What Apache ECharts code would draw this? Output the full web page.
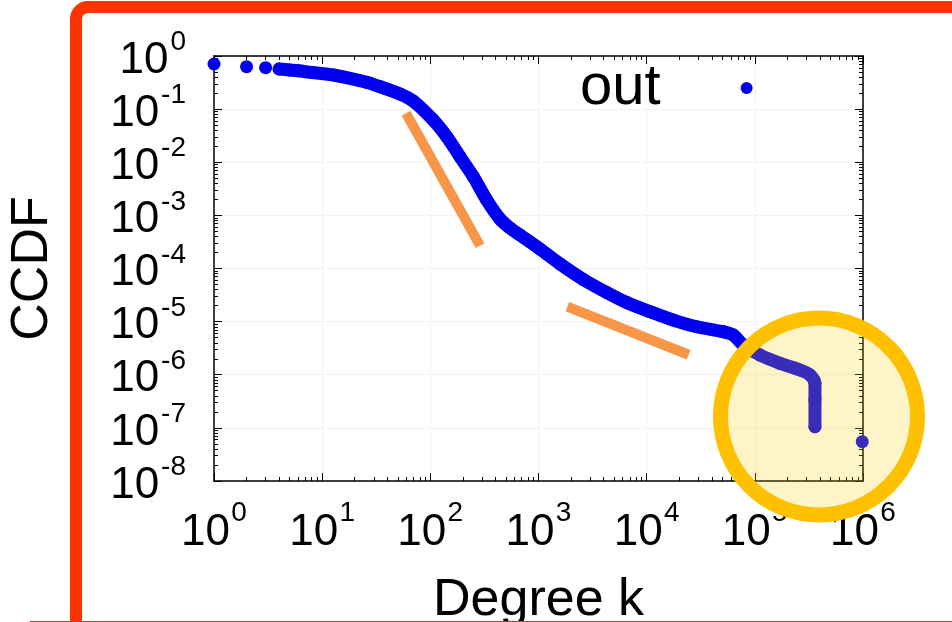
<!DOCTYPE html>
<html>
<head>
<meta charset="utf-8">
<script src="https://cdn.jsdelivr.net/npm/echarts@6/dist/echarts.min.js"></script>
<style>
  html, body { margin: 0; padding: 0; background: #ffffff; }
  #chart { width: 952px; height: 622px; }
</style>
</head>
<body>
<div id="chart"></div>
<script>
// ---- data ----
const degreeK = [1, 2, 3, 4, 5, 6, 8, 12.7, 25.8, 34.3, 52.4, 69.6, 105.8, 141.7, 188, 249.6, 332, 440.6,
  545, 674.6, 1032, 1580, 2594, 4270, 6535, 10740, 17630, 28980, 51100, 63200, 78200, 111600, 171000,
  261400, 323600, 359700, 359700, 359700, 984000];
const ccdfOut = [0.707, 0.629, 0.602, 0.569, 0.545, 0.526, 0.489, 0.439, 0.320, 0.264, 0.193, 0.142,
  0.063, 0.0303, 0.0127, 0.00535, 0.00195, 8.55e-4, 5.78e-4, 4.27e-4, 2.33e-4, 1.22e-4, 6.21e-5,
  3.53e-5, 2.29e-5, 1.54e-5, 1.07e-5, 8.02e-6, 6.46e-6, 5.60e-6, 3.63e-6, 2.35e-6, 1.64e-6,
  1.23e-6, 9.9e-7, 6.9e-7, 3.35e-7, 1.05e-7, 5.5e-8];
const denseStart = 3;   // index where the dots merge into a continuous band
const denseEnd = 37;    // last index of the band (before the isolated point)

// guide slopes (annotation lines), [k, ccdf] end points
const slopeGuide1 = [[59.6, 0.0834], [287.8, 2.69e-4]];
const slopeGuide2 = [[1846, 1.91e-5], [24450, 2.38e-6]];

// tick labels: base and exponents of 10
const tickBase = '10';
const xTickExps = ['0', '1', '2', '3', '4', '5', '6'];
const yTickExps = ['0', '-1', '-2', '-3', '-4', '-5', '-6', '-7', '-8'];
const minorMultipliers = [2, 3, 4, 5, 6, 7, 8, 9];
const xDecades = [0, 1, 2, 3, 4, 5];
const yDecades = [-8, -7, -6, -5, -4, -3, -2, -1];

const xMinor = [];
xDecades.forEach(d => minorMultipliers.forEach(m => xMinor.push(m * Math.pow(10, d))));
const yMinor = [];
yDecades.forEach(d => minorMultipliers.forEach(m => yMinor.push(m * Math.pow(10, d))));

const FONT = 'Liberation Sans, Arial, Helvetica, sans-serif';
const BLUE = '#0000ee';

const allPts = degreeK.map((k, i) => [k, ccdfOut[i]]);
const densePts = allPts.slice(denseStart, denseEnd + 1);

function expOf(v, list) {
  const e = String(Math.round(Math.log10(v)));
  const i = list.indexOf(e);
  return i >= 0 ? list[i] : e;
}

function logX(extra) {
  return Object.assign({
    type: 'log', logBase: 10, min: 1, max: 1e6, splitNumber: 6, gridIndex: 0
  }, extra);
}
function logY(extra) {
  return Object.assign({
    type: 'log', logBase: 10, min: 1e-8, max: 1, splitNumber: 8, gridIndex: 0
  }, extra);
}
const blackLine = { show: true, lineStyle: { color: '#000', width: 1.5 } };
const noLabel = { show: false };
const noSplit = { show: false };
const gridLine = { show: true, lineStyle: { color: '#f2f2f2', width: 1 } };
const majorTick = { show: true, inside: true, length: 8, lineStyle: { color: '#000', width: 1 } };

const chart = echarts.init(document.getElementById('chart'), null, { renderer: 'canvas' });
chart.setOption({
  animation: false,
  backgroundColor: '#ffffff',
  grid: { left: 214, right: 89, top: 56, bottom: 141, containLabel: false, outerBoundsMode: 'none' },
  legend: {
    data: [{ name: 'out', icon: 'circle' }],
    selectedMode: false,
    align: 'right',
    left: 575,
    top: 54,
    itemWidth: 12,
    itemHeight: 12,
    textStyle: { fontSize: 58, lineHeight: 58, fontFamily: FONT, color: '#000', padding: [0, 75, 0, 0] }
  },
  xAxis: [
    logX({
      position: 'bottom',
      axisLine: blackLine,
      axisTick: majorTick,
      axisLabel: { show: true, margin: 32, showMinLabel: true, showMaxLabel: true, hideOverlap: false,
        align: 'center', verticalAlign: 'top', padding: [0, 17, 0, 0],
        fontSize: 44, lineHeight: 40, fontFamily: FONT, color: '#000',
        formatter: () => tickBase },
      splitLine: gridLine,
      name: 'Degree k', nameLocation: 'middle', nameGap: 94,
      nameTextStyle: { fontSize: 52, fontFamily: FONT, color: '#000' }
    }),
    logX({
      position: 'top', axisLine: blackLine, axisTick: majorTick,
      axisLabel: noLabel, splitLine: noSplit
    }),
    logX({
      position: 'bottom', axisLine: { show: false },
      axisTick: { show: true, inside: true, length: 4, customValues: xMinor, lineStyle: { color: '#000', width: 1 } },
      axisLabel: { show: true, margin: 21, showMinLabel: true, showMaxLabel: true, hideOverlap: false,
        align: 'center', verticalAlign: 'top', padding: [0, 0, 0, 50],
        fontSize: 28, lineHeight: 22, fontFamily: FONT, color: '#000',
        formatter: v => expOf(v, xTickExps) },
      splitLine: noSplit
    }),
    logX({
      position: 'top', axisLine: { show: false },
      axisTick: { show: true, inside: true, length: 4, customValues: xMinor, lineStyle: { color: '#000', width: 1 } },
      axisLabel: noLabel, splitLine: noSplit
    })
  ],
  yAxis: [
    logY({
      position: 'left',
      axisLine: blackLine,
      axisTick: majorTick,
      axisLabel: { show: true, margin: 28, showMinLabel: true, showMaxLabel: true, hideOverlap: false,
        align: 'right', verticalAlign: 'middle', padding: [9, 0, 0, 0],
        formatter: v => '{b|' + tickBase + '}{h|' + expOf(v, yTickExps) + '}',
        rich: {
          b: { fontSize: 44, lineHeight: 36, fontFamily: FONT, color: '#000' },
          h: { fontSize: 28, lineHeight: 36, fontFamily: FONT, color: 'rgba(0,0,0,0)', padding: [0, 0, 0, 2] }
        } },
      splitLine: gridLine,
      name: 'CCDF', nameLocation: 'middle', nameGap: 155,
      nameTextStyle: { fontSize: 52, fontFamily: FONT, color: '#000' }
    }),
    logY({
      position: 'right', axisLine: blackLine, axisTick: majorTick,
      axisLabel: noLabel, splitLine: noSplit
    }),
    logY({
      position: 'left', axisLine: { show: false },
      axisTick: { show: true, inside: true, length: 4, customValues: yMinor, lineStyle: { color: '#000', width: 1 } },
      axisLabel: { show: true, margin: 28, showMinLabel: true, showMaxLabel: true, hideOverlap: false,
        align: 'right', verticalAlign: 'bottom',
        fontSize: 28, lineHeight: 27, fontFamily: FONT, color: '#000',
        formatter: v => expOf(v, yTickExps) },
      splitLine: noSplit
    }),
    logY({
      position: 'right', axisLine: { show: false },
      axisTick: { show: true, inside: true, length: 4, customValues: yMinor, lineStyle: { color: '#000', width: 1 } },
      axisLabel: noLabel, splitLine: noSplit
    })
  ],
  series: [
    {
      name: 'out',
      type: 'scatter',
      xAxisIndex: 0, yAxisIndex: 0,
      data: allPts,
      symbol: 'circle',
      symbolSize: 13,
      clip: false,
      itemStyle: { color: BLUE, opacity: 1 },
      z: 3
    },
    {
      name: 'out',
      type: 'line',
      xAxisIndex: 0, yAxisIndex: 0,
      data: densePts,
      showSymbol: false,
      smooth: 0.3,
      clip: false,
      lineStyle: { color: BLUE, width: 13, cap: 'round', join: 'round' },
      itemStyle: { color: BLUE },
      z: 3,
      markLine: {
        silent: true,
        symbol: ['none', 'none'],
        label: { show: false },
        lineStyle: { color: '#F79646', width: 10, type: 'solid', cap: 'butt', opacity: 1 },
        data: [
          [{ coord: slopeGuide1[0] }, { coord: slopeGuide1[1] }],
          [{ coord: slopeGuide2[0] }, { coord: slopeGuide2[1] }]
        ]
      }
    }
  ],
  graphic: [
    {
      type: 'rect', z: 200, silent: true,
      shape: { x: 76, y: 7, width: 1000, height: 800, r: 12 },
      style: { fill: 'none', stroke: '#FF3300', lineWidth: 12 }
    },
    {
      type: 'line', z: 201, silent: true,
      shape: { x1: 30, y1: 621.5, x2: 952, y2: 621.5 },
      style: { stroke: '#a8473f', lineWidth: 1 }
    },
    {
      type: 'circle', z: 150, silent: true,
      shape: { cx: 819, cy: 416.5, r: 98.5 },
      style: { fill: 'rgba(255, 204, 0, 0.22)', stroke: '#FFC000', lineWidth: 15 }
    }
  ]
});
</script>
</body>
</html>
